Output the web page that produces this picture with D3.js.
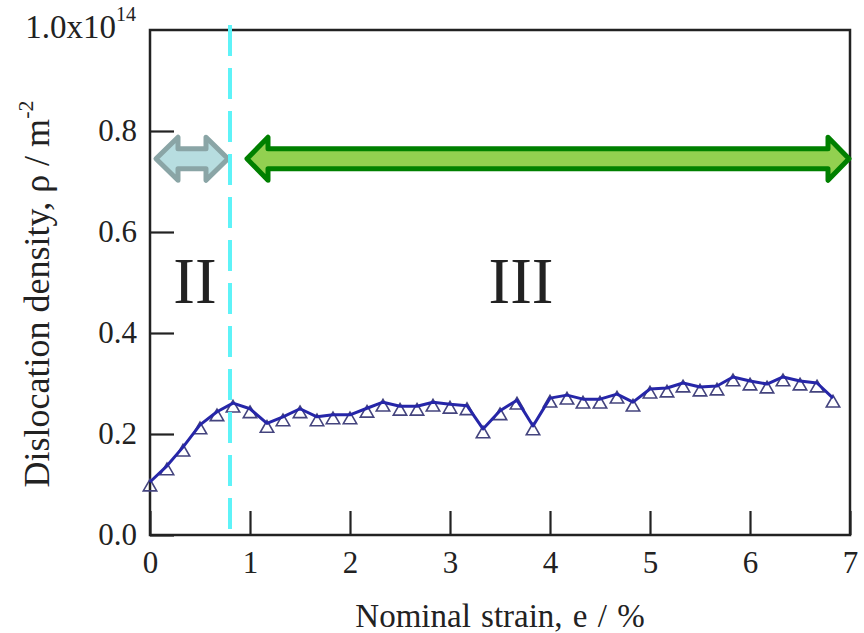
<!DOCTYPE html>
<html>
<head>
<meta charset="utf-8">
<script src="https://cdn.jsdelivr.net/npm/d3@7"></script>
<style>
  body { margin: 0; background: #fff; }
  text { font-family: "Liberation Serif", "DejaVu Serif", serif; fill: #222; }
</style>
</head>
<body>
<div class="chart"></div>
<script>
var svgWidth = 864;
var svgHeight = 633;

var margin = { top: 30, right: 14, bottom: 98, left: 150 };
var width = svgWidth - margin.left - margin.right;
var height = svgHeight - margin.top - margin.bottom;

// data (strain in %, density in 1e14 m^-2)
var strain = [0, 0.17, 0.33, 0.5, 0.67, 0.83, 1.0, 1.17, 1.33, 1.5, 1.67, 1.83, 2.0, 2.17,
  2.33, 2.5, 2.67, 2.83, 3.0, 3.17, 3.33, 3.5, 3.67, 3.83, 4.0, 4.17, 4.33, 4.5,
  4.67, 4.83, 5.0, 5.17, 5.33, 5.5, 5.67, 5.83, 6.0, 6.17, 6.33, 6.5, 6.67, 6.83];
var density = [0.105, 0.137, 0.174, 0.218, 0.244, 0.261, 0.25, 0.221, 0.234, 0.25, 0.234, 0.238, 0.238, 0.251,
  0.263, 0.255, 0.255, 0.263, 0.259, 0.256, 0.21, 0.246, 0.267, 0.216, 0.271, 0.277, 0.269, 0.269,
  0.279, 0.263, 0.289, 0.291, 0.301, 0.293, 0.295, 0.313, 0.305, 0.299, 0.313, 0.305, 0.301, 0.271];

var xTicks = [0, 1, 2, 3, 4, 5, 6, 7];
var yTicks = [0, 0.2, 0.4, 0.6, 0.8];
var stageBoundary = 0.8;

var svg = d3.select(".chart")
  .append("svg")
  .attr("width", svgWidth)
  .attr("height", svgHeight);

var chartGroup = svg.append("g")
  .attr("transform", `translate(${margin.left}, ${margin.top})`);

var xScale = d3.scaleLinear().domain([0, 7]).range([0, width]);
var yScale = d3.scaleLinear().domain([0, 1.0]).range([height, 0]);

// axes with ticks pointing inward
var bottomAxis = d3.axisBottom(xScale).tickValues(xTicks).tickSize(-24).tickPadding(16)
  .tickFormat(d3.format("d"));
var leftAxis = d3.axisLeft(yScale).tickValues(yTicks).tickSize(-24).tickPadding(13)
  .tickFormat(d3.format(".1f"));

var xAxis = chartGroup.append("g")
  .attr("transform", `translate(0, ${height})`)
  .call(bottomAxis);
var yAxis = chartGroup.append("g").call(leftAxis);

[xAxis, yAxis].forEach(function(ax) {
  ax.select(".domain").remove();
  ax.selectAll("line").attr("stroke", "#222").attr("stroke-width", 2.2);
  ax.selectAll("text").attr("font-size", 31).attr("fill", "#222")
    .style("font-family", "'Liberation Serif', serif");
});

// top label 1.0x10^14
var topLabel = chartGroup.append("text")
  .attr("x", -14)
  .attr("y", yScale(1.0))
  .attr("dy", "0.25em")
  .attr("text-anchor", "end")
  .attr("font-size", 33);
topLabel.append("tspan").text("1.0x10");
topLabel.append("tspan").attr("font-size", 20).attr("dy", "-0.85em").text("14");

// frame
chartGroup.append("rect")
  .attr("x", 0).attr("y", 0)
  .attr("width", width).attr("height", height)
  .attr("fill", "none")
  .attr("stroke", "#222")
  .attr("stroke-width", 2.5);

// stage arrows
function arrowPath(x1, x2, yc, hl, hh, sh) {
  return [[x1, yc], [x1 + hl, yc - hh], [x1 + hl, yc - sh], [x2 - hl, yc - sh], [x2 - hl, yc - hh],
    [x2, yc], [x2 - hl, yc + hh], [x2 - hl, yc + sh], [x1 + hl, yc + sh], [x1 + hl, yc + hh]];
}
var arrowY = yScale(0.745);
chartGroup.append("polygon")
  .attr("points", arrowPath(xScale(0.06), xScale(0.78), arrowY, 22, 21.5, 10).join(" "))
  .attr("fill", "#b7dde0")
  .attr("stroke", "#8aa5a6")
  .attr("stroke-width", 5)
  .attr("stroke-linejoin", "round");
chartGroup.append("polygon")
  .attr("points", arrowPath(xScale(0.97), xScale(6.99), arrowY, 21, 21.5, 10).join(" "))
  .attr("fill", "#92d050")
  .attr("stroke", "#008000")
  .attr("stroke-width", 5)
  .attr("stroke-linejoin", "round");

// stage labels
chartGroup.append("text")
  .attr("x", xScale(0.45)).attr("y", yScale(0.46))
  .attr("text-anchor", "middle")
  .attr("font-size", 65)
  .attr("fill", "#000")
  .text("II");
chartGroup.append("text")
  .attr("x", xScale(3.71)).attr("y", yScale(0.46))
  .attr("text-anchor", "middle")
  .attr("font-size", 65)
  .attr("fill", "#000")
  .text("III");

// data markers (open triangles) then line on top
var pts = strain.map(function(s, i) { return [s, density[i]]; });
var tri = d3.symbol().type(d3.symbolTriangle).size(78);

chartGroup.selectAll(".marker")
  .data(pts)
  .enter()
  .append("path")
  .attr("class", "marker")
  .attr("d", tri)
  .attr("transform", d => `translate(${xScale(d[0])}, ${yScale(d[1]) + 5})`)
  .attr("fill", "none")
  .attr("stroke", "#44447e")
  .attr("stroke-width", 1.6);

var line = d3.line()
  .x(d => xScale(d[0]))
  .y(d => yScale(d[1]));

chartGroup.append("path")
  .datum(pts)
  .attr("d", line)
  .attr("fill", "none")
  .attr("stroke", "#2626a8")
  .attr("stroke-width", 3)
  .attr("stroke-linejoin", "round");

// boundary between stage II and III
chartGroup.append("line")
  .attr("x1", xScale(stageBoundary)).attr("x2", xScale(stageBoundary))
  .attr("y1", -5).attr("y2", height + 3)
  .attr("stroke", "#5ef3f8")
  .attr("stroke-width", 4)
  .attr("stroke-dasharray", "31,12");

// axis titles
chartGroup.append("text")
  .attr("x", 350)
  .attr("y", height + 92)
  .attr("text-anchor", "middle")
  .attr("font-size", 33)
  .attr("word-spacing", 2)
  .text("Nominal strain, e / %");

var yTitle = svg.append("text")
  .attr("transform", "translate(49, 294) rotate(-90)")
  .attr("text-anchor", "middle")
  .attr("font-size", 36);
yTitle.append("tspan").text("Dislocation density, \u03c1 / m");
yTitle.append("tspan").attr("font-size", 22).attr("dy", "-0.75em").text("-2");
</script>
</body>
</html>
